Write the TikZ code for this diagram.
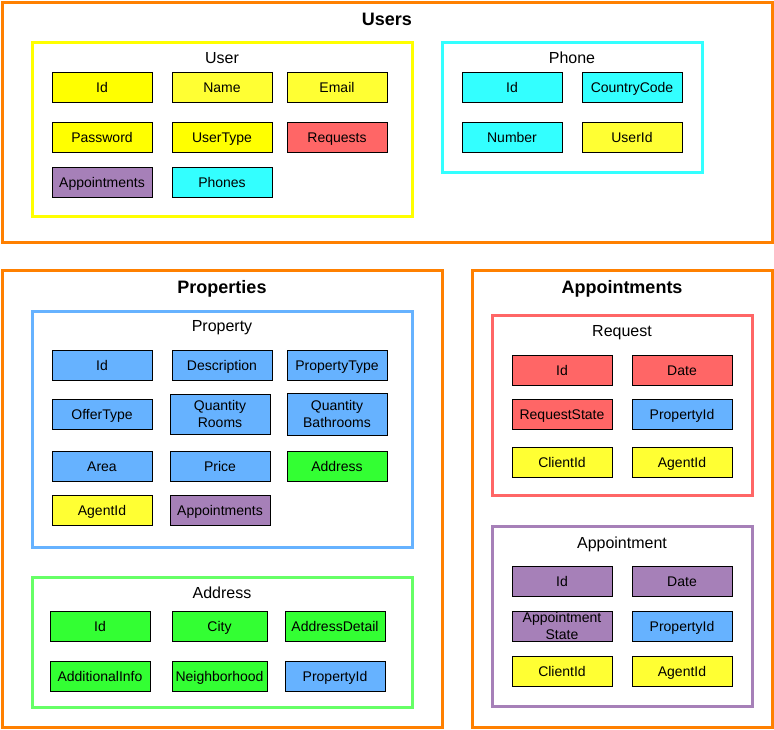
\documentclass[tikz,border=0pt]{standalone}
\usepackage{fontspec}
\setmainfont{Liberation Sans}
\definecolor{cOrange}{HTML}{FF8000}
\definecolor{cYel}{HTML}{FFFF00}
\definecolor{cYelL}{HTML}{FFFF33}
\definecolor{cCyan}{HTML}{33FFFF}
\definecolor{cRed}{HTML}{FF6666}
\definecolor{cPurp}{HTML}{A680B8}
\definecolor{cBlue}{HTML}{66B2FF}
\definecolor{cGreen}{HTML}{33FF33}
\definecolor{cGreenB}{HTML}{66FF66}
\begin{document}
\begin{tikzpicture}[x=1pt,y=-1pt,
  outerbox/.style={draw=cOrange,line width=3pt,fill=white,inner sep=0pt},
  innerbox/.style={draw=#1,line width=3pt,fill=white,inner sep=0pt},
  ttl/.style={font=\fontsize{18}{20}\selectfont\bfseries,inner sep=0pt,text height=13pt,text depth=0pt},
  sub/.style={font=\fontsize{16}{18}\selectfont,inner sep=0pt,text height=11.5pt,text depth=0pt},
  fldbase/.style={draw=black,line width=1pt,fill=#1,minimum width=100pt,minimum height=30pt,inner sep=0pt,
    font=\fontsize{14}{16.5}\selectfont},
  fld/.style={fldbase=#1,text height=10pt,text depth=0pt},
  fldtwo/.style={fldbase=#1,align=center},
]
\useasboundingbox (0,0) rectangle (774,729);
% outer containers
\node[outerbox,minimum width=770pt,minimum height=240pt] (users) at (387,122) {};
\node[outerbox,minimum width=440pt,minimum height=457pt] (props) at (222,498.5) {};
\node[outerbox,minimum width=300pt,minimum height=457pt] (appts) at (622,498.5) {};
\node[ttl] (tusers) at (387,19) {Users};
\node[ttl] (tprops) at (222,287) {Properties};
\node[ttl] (tappts) at (622,287) {Appointments};
% inner containers
\node[innerbox=cYel,minimum width=379.5pt,minimum height=173.5pt] (user) at (222.25,129.25) {};
\node[innerbox=cCyan,minimum width=259.5pt,minimum height=129.5pt] (phone) at (572.25,107.25) {};
\node[innerbox=cBlue,minimum width=379.5pt,minimum height=236pt] (property) at (222.25,429) {};
\node[innerbox=cGreenB,minimum width=379.5pt,minimum height=129.5pt] (address) at (222.25,642.25) {};
\node[innerbox=cRed,minimum width=259.5pt,minimum height=179.5pt] (request) at (622.25,405.25) {};
\node[innerbox=cPurp,minimum width=259.5pt,minimum height=180pt] (appointment) at (622.25,616.5) {};
\node[sub] (tuser) at (222,58) {User};
\node[sub] (tphone) at (572,58) {Phone};
\node[sub] (tproperty) at (222,326) {Property};
\node[sub] (taddress) at (222,593) {Address};
\node[sub] (trequest) at (622,331) {Request};
\node[sub] (tappointment) at (622,543) {Appointment};
% User fields
\node[fld=cYel] (u1) at (102,87) {Id};
\node[fld=cYelL] (u2) at (222,87) {Name};
\node[fld=cYelL] (u3) at (337,87) {Email};
\node[fld=cYel] (u4) at (102,137) {Password};
\node[fld=cYel] (u5) at (222,137) {UserType};
\node[fld=cRed] (u6) at (337,137) {Requests};
\node[fld=cPurp] (u7) at (102,182) {Appointments};
\node[fld=cCyan] (u8) at (222,182) {Phones};
% Phone fields
\node[fld=cCyan] (p1) at (512,87) {Id};
\node[fld=cCyan] (p2) at (632,87) {CountryCode};
\node[fld=cCyan] (p3) at (512,137) {Number};
\node[fld=cYelL] (p4) at (632,137) {UserId};
% Property fields
\node[fld=cBlue] (r1) at (102,365) {Id};
\node[fld=cBlue] (r2) at (222,365) {Description};
\node[fld=cBlue] (r3) at (337,365) {PropertyType};
\node[fld=cBlue] (r4) at (102,414) {OfferType};
\node[fldtwo=cBlue,minimum height=40pt] (r5) at (220,414) {Quantity\\Rooms};
\node[fldtwo=cBlue,minimum height=42pt] (r6) at (337,414) {Quantity\\Bathrooms};
\node[fld=cBlue] (r7) at (102,466) {Area};
\node[fld=cBlue] (r8) at (220,466) {Price};
\node[fld=cGreen] (r9) at (337,466) {Address};
\node[fld=cYelL] (r10) at (102,510) {AgentId};
\node[fld=cPurp] (r11) at (220,510) {Appointments};
% Address fields
\node[fld=cGreen] (a1) at (100,626) {Id};
\node[fld=cGreen,minimum width=95pt] (a2) at (219.5,626) {City};
\node[fld=cGreen] (a3) at (335,626) {AddressDetail};
\node[fld=cGreen] (a4) at (100,676) {AdditionalInfo};
\node[fld=cGreen,minimum width=95pt] (a5) at (219.5,676) {Neighborhood};
\node[fld=cBlue] (a6) at (335,676) {PropertyId};
% Request fields
\node[fld=cRed] (q1) at (562,370) {Id};
\node[fld=cRed] (q2) at (682,370) {Date};
\node[fld=cRed] (q3) at (562,414) {RequestState};
\node[fld=cBlue] (q4) at (682,414) {PropertyId};
\node[fld=cYelL] (q5) at (562,462) {ClientId};
\node[fld=cYelL] (q6) at (682,462) {AgentId};
% Appointment fields
\node[fld=cPurp] (m1) at (562,581) {Id};
\node[fld=cPurp] (m2) at (682,581) {Date};
\node[fldbase=cPurp,label={[font=\fontsize{14}{16.7}\selectfont,align=center,inner sep=0pt]center:Appointment\\State}] (m3) at (562,626) {};
\node[fld=cBlue] (m4) at (682,626) {PropertyId};
\node[fld=cYelL] (m5) at (562,671) {ClientId};
\node[fld=cYelL] (m6) at (682,671) {AgentId};
\end{tikzpicture}
\end{document}
